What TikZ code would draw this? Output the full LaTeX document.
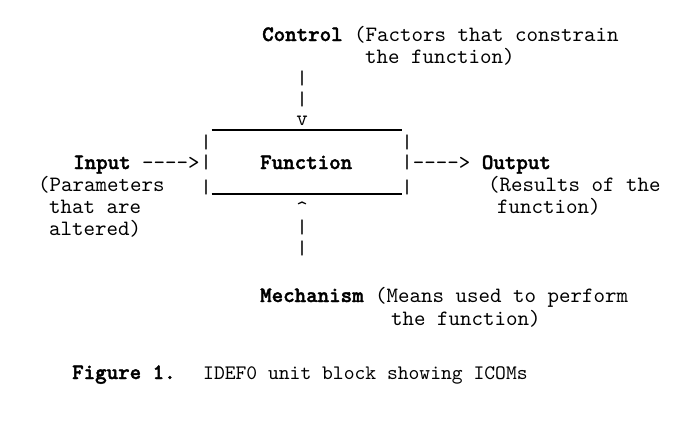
\documentclass[tikz,border=0pt]{standalone}
\usepackage{fontspec}
\usepackage{graphicx}
\usetikzlibrary{positioning}
\setmonofont{lmmono10-regular}[Extension=.otf, BoldFont=lmmonolt10-bold, BoldFeatures={FakeBold=1.8}]
\newcommand{\twbig}{\ttfamily\fontsize{21.9}{25}\selectfont}
\newcommand{\twcap}{\ttfamily\fontsize{20.6}{24}\selectfont}
\newcommand{\vbar}{\scalebox{1}[0.9]{|}}

\begin{document}
\begin{tikzpicture}[x=1pt,y=-1pt,
  txt/.style={anchor=base west, inner sep=0pt, font=\twbig},
  chr/.style={inner sep=0pt, font=\twbig},
  uline/.style={black, line width=1.3pt}]
 \fill[white] (0,0) rectangle (700,431);
 \useasboundingbox (0,0) rectangle (700,431);
 % control, from above
 \node[txt] (ctl) at (262,41) {\textbf{Control} (Factors that constrain};
 \node[txt] (ctlb) at (365,63) {the function)};
 \node[chr] (cbar1) at (302,78.5) {\vbar};
 \node[chr] (cbar2) at (302,99.5) {\vbar};
 \node[chr] (ctip) at (302,121) {v};
 % the unit block
 \coordinate (nw) at (211.5,130);
 \coordinate (ne) at (401.5,130);
 \coordinate (sw) at (211.5,194);
 \coordinate (se) at (401.5,194);
 \draw[uline] (nw) -- (ne);
 \draw[uline] (sw) -- (se);
 \node[chr] (lbar1) at (206,142.5) {\vbar};
 \node[chr] (lbar2) at (206,162.5) {\vbar};
 \node[chr] (lbar3) at (206,187) {\vbar};
 \node[chr] (rbar1) at (407,142.5) {\vbar};
 \node[chr] (rbar2) at (407,162.5) {\vbar};
 \node[chr] (rbar3) at (407,187) {\vbar};
 \node[txt] (fn) at (260,169) {\textbf{Function}};
 % input
 \node[txt] (inp) at (73,169) {\textbf{Input} ---->};
 \node[txt] (inpb) at (38,191) {(Parameters};
 \node[txt] (inpc) at (49,213) {that are};
 \node[txt] (inpd) at (49,235) {altered)};
 % output
 \node[txt] (out) at (412.7,169) {----> \textbf{Output}};
 \node[txt] (outb) at (488,191) {(Results of the};
 \node[txt] (outc) at (497,213) {function)};
 % mechanism, from below
 \node[chr] (mtip) at (302,215.7) {\smash{\textasciicircum}};
 \node[chr] (mbar1) at (302,227.5) {\vbar};
 \node[chr] (mbar2) at (302,248) {\vbar};
 \node[txt] (mech) at (260,302) {\textbf{Mechanism} (Means used to perform};
 \node[txt] (mechb) at (391,325) {the function)};
 % caption
 \node[txt] (fig) at (72,379) {\textbf{Figure 1.}};
 \node[txt, font=\twcap] (cap) at (203,379) {IDEF0 unit block showing ICOMs};
\end{tikzpicture}
\end{document}
